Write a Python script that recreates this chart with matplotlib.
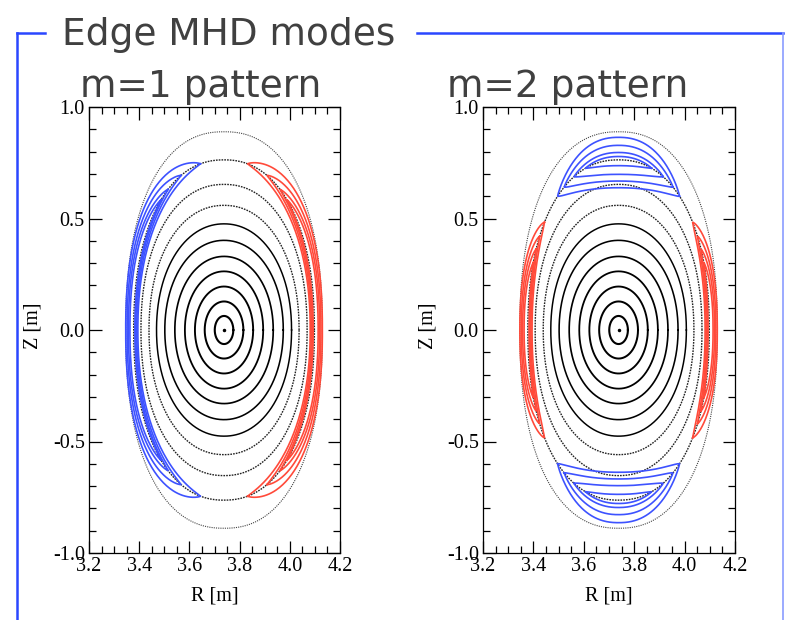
import numpy as np
import matplotlib.pyplot as plt
from matplotlib.ticker import MultipleLocator

plt.rcParams['axes.unicode_minus'] = False

#%% data
R0 = 3.738  # magnetic axis [m]
# nested flux surfaces: half width in R and half height in Z [m]
surf_a = [0.037, 0.077, 0.116, 0.156, 0.196, 0.236, 0.269, 0.299, 0.331, 0.360, 0.392]
surf_b = [0.063, 0.128, 0.195, 0.263, 0.330, 0.402, 0.476, 0.559, 0.653, 0.763, 0.889]

# island contours, given as poloidal half span [deg] and the outer / inner
# half height of the contour at the island centre [m]; ends sit on surface 10
m1_span = [77, 64, 54, 48]
m1_top = [0.888, 0.866, 0.845, 0.822]
m1_bot = [0.700, 0.716, 0.731, 0.745]
m1_islands = [(180, 'blue'), (0, 'red')]

m2_side_span = [37, 31, 26, 21]
m2_side_top = [0.888, 0.866, 0.845, 0.822]
m2_side_bot = [0.700, 0.716, 0.731, 0.745]
m2_ud_span = [40, 34.5, 27, 19]
m2_ud_top = [0.864, 0.828, 0.796, 0.778]
m2_ud_bot = [0.638, 0.668, 0.698, 0.737]
m2_islands = [(0, 'red'), (180, 'red'), (90, 'blue'), (270, 'blue')]

colors = {'blue': '#3d52ff', 'red': '#ff4a3a'}
sep_b = surf_b[9]


def shape(a, b, th):
    # slightly square-ish surfaces, fuller towards the edge
    n = 2.0 + 0.3 * (b / surf_b[-1]) ** 2
    c, s = np.cos(th), np.sin(th)
    R = R0 + a * np.sign(c) * np.abs(c) ** (2 / n)
    Z = b * np.sign(s) * np.abs(s) ** (2 / n)
    return R, Z


def island(ax, th_c, span, top, bot, col):
    u = np.linspace(-1, 1, 200)
    th = np.radians(th_c + span * u)
    g = (1 - u**2) ** 0.85
    b_up = sep_b + (top - sep_b) * g
    b_lo = sep_b - (sep_b - bot) * g
    b = np.concatenate([b_up, b_lo[::-1]])
    th = np.concatenate([th, th[::-1]])
    a = np.interp(b, surf_b, surf_a)
    R, Z = shape(a, b, th)
    ax.plot(R, Z, color=col, lw=1.2, zorder=3)


def draw_surfaces(ax):
    th = np.linspace(0, 2 * np.pi, 600)
    for i, (a, b) in enumerate(zip(surf_a, surf_b)):
        R, Z = shape(a, b, th)
        if i < 7:
            ax.plot(R, Z, color='k', lw=1.5 - 0.07 * i, zorder=2)
        elif i < 10:
            ax.plot(R, Z, color='#222222', lw=1.0, ls=(0, (1.2, 0.8)), zorder=2)
        else:
            ax.plot(R, Z, color='#444444', lw=0.8, ls=(0, (1, 1)), zorder=2)
    ax.plot(R0, 0, 'o', ms=1.5, color='k')


def style(ax):
    ax.set_xlim(3.2, 4.2)
    ax.set_ylim(-1, 1)
    ax.xaxis.set_major_locator(MultipleLocator(0.2))
    ax.xaxis.set_minor_locator(MultipleLocator(0.05))
    ax.yaxis.set_major_locator(MultipleLocator(0.5))
    ax.yaxis.set_minor_locator(MultipleLocator(0.1))
    ax.tick_params(which='both', direction='in', top=True, right=True, width=0.9)
    ax.tick_params(which='major', length=9, labelsize=14.5, pad=3)
    ax.tick_params(which='minor', length=5)
    for lab in ax.get_xticklabels() + ax.get_yticklabels():
        lab.set_family('Liberation Serif')
    ax.set_xlabel('R [m]', family='Liberation Serif', fontsize=14.5)
    ax.set_ylabel('Z [m]', family='Liberation Serif', fontsize=14.5)
    ax.xaxis.set_label_coords(0.5, -0.074)
    for sp in ax.spines.values():
        sp.set_linewidth(0.9)


#%%
fig = plt.figure(figsize=(7.85, 6.2), dpi=100)
W, H = 785, 620
ax1 = fig.add_axes([89 / W, 1 - 553 / H, 251 / W, 446 / H])
ax2 = fig.add_axes([483 / W, 1 - 553 / H, 252 / W, 446 / H])

draw_surfaces(ax1)
for k in range(len(m1_span)):
    for th_c, col in m1_islands:
        island(ax1, th_c, m1_span[k], m1_top[k], m1_bot[k], colors[col])

draw_surfaces(ax2)
for k in range(len(m2_side_span)):
    for th_c, col in m2_islands:
        if th_c in (0, 180):
            island(ax2, th_c, m2_side_span[k], m2_side_top[k], m2_side_bot[k], colors[col])
        else:
            island(ax2, th_c, m2_ud_span[k], m2_ud_top[k], m2_ud_bot[k], colors[col])

style(ax1)
style(ax2)
ax1.yaxis.set_label_coords(-0.187, 0.51)
ax2.yaxis.set_label_coords(-0.179, 0.51)

# slide frame
blue = '#2a46ff'
frame = dict(color=blue, lw=1.8, transform=fig.transFigure, clip_on=False)
fig.add_artist(plt.Line2D([17 / W, 17 / W], [0, 1 - 33 / H], **frame))
fig.add_artist(plt.Line2D([17 / W, 45 / W], [1 - 33 / H, 1 - 33 / H], **frame))
fig.add_artist(plt.Line2D([417 / W, 783 / W], [1 - 33 / H, 1 - 33 / H], **frame))
fig.add_artist(plt.Line2D([783 / W, 783 / W], [0, 1 - 33 / H], color='#8a9cff', lw=1.2,
                          transform=fig.transFigure))

tkw = dict(family='DejaVu Sans', color='#404040', fontsize=27, va='baseline')
fig.text(62 / W, 1 - 45 / H, 'Edge MHD modes', **tkw)
fig.text(80 / W, 1 - 97 / H, 'm=1 pattern', **tkw)
fig.text(447 / W, 1 - 97 / H, 'm=2 pattern', **tkw)

fig.savefig('out.png', dpi=100)
